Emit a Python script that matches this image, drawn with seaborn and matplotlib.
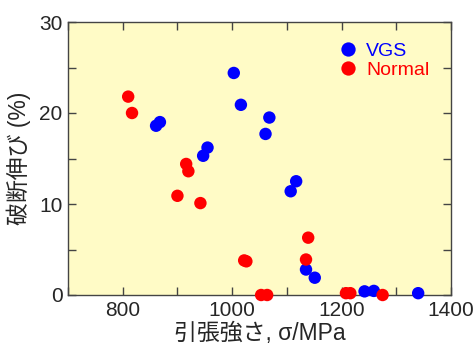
import matplotlib
matplotlib.use("Agg")
import matplotlib.pyplot as plt
import seaborn as sns
import pandas as pd
from matplotlib.ticker import MultipleLocator

vgs_x = [1003, 1016, 1068, 1061, 861, 868, 947, 955, 1107, 1117, 1135, 1151, 1242, 1259, 1340]
vgs_y = [24.4, 20.9, 19.5, 17.7, 18.6, 19.0, 15.3, 16.2, 11.4, 12.5, 2.8, 1.9, 0.4, 0.45, 0.2]
normal_x = [810, 817, 916, 920, 900, 942, 1022, 1026, 1139, 1135, 1053, 1064, 1208, 1216, 1275]
normal_y = [21.8, 20.0, 14.4, 13.6, 10.9, 10.1, 3.8, 3.7, 6.3, 3.9, 0.0, 0.0, 0.2, 0.2, 0.0]
series = ["VGS", "Normal"]
colors = {"VGS": "#0000ff", "Normal": "#ff0000"}

df = pd.DataFrame({
    "x": vgs_x + normal_x,
    "y": vgs_y + normal_y,
    "s": ["VGS"] * len(vgs_x) + ["Normal"] * len(normal_x),
})

sns.set_style("white")
plt.rcParams['font.family'] = ['Liberation Sans', 'Noto Sans CJK JP', 'DejaVu Sans']

fig = plt.figure(figsize=(4.76, 3.46), dpi=100)
ax = fig.add_axes([68/476, 1-295/346, 383/476, 273/346])
ax.set_facecolor("#fffbc6")

sns.scatterplot(data=df, x="x", y="y", hue="s", hue_order=series, palette=colors,
                s=80, edgecolor="none", linewidth=0, ax=ax, zorder=3, clip_on=False)

ax.set_xlim(700, 1400)
ax.set_ylim(0, 30)
ax.xaxis.set_major_locator(MultipleLocator(200))
ax.xaxis.set_minor_locator(MultipleLocator(100))
ax.yaxis.set_major_locator(MultipleLocator(10))
ax.yaxis.set_minor_locator(MultipleLocator(5))
ax.tick_params(which="both", direction="in", top=True, right=True, bottom=True, left=True,
               color="#444444", width=1)
ax.tick_params(which="major", length=6, labelsize=15, pad=4)
ax.tick_params(which="minor", length=6)
for sp in ax.spines.values():
    sp.set_color("#444444")
    sp.set_linewidth(1)

ax.set_xlabel("引張強さ, σ/MPa", fontsize=16.5, labelpad=2)
ax.set_ylabel("破断伸び (%)", fontsize=16.5, labelpad=6)

leg = ax.legend(loc="upper left", bbox_to_anchor=(0.675, 0.962), frameon=False,
                fontsize=14, handletextpad=0.35, handlelength=1.2, labelspacing=0.1,
                borderpad=0, markerscale=1.15)
for t in leg.get_texts():
    t.set_color(colors[t.get_text()])

fig.savefig("out.png", dpi=100)
